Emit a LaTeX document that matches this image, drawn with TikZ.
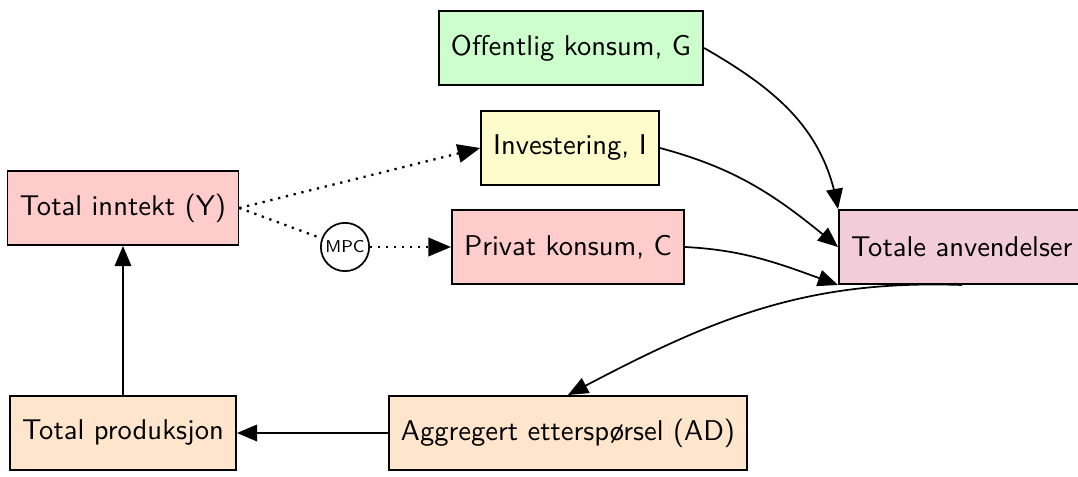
\documentclass[tikz,border=0pt]{standalone}
\usepackage{tikz}
\usetikzlibrary{positioning, arrows}

\begin{document}
\begin{tikzpicture}[->, >=triangle 45, semithick, x=0.35pt, y=0.35pt,
        box/.style={draw, rectangle, font=\sffamily, minimum height=26pt, inner xsep=4.3pt}]
    	\useasboundingbox (0,0) rectangle (1078,477);
    	\node[box, fill=green!20] (G) at (571,429) {Offentlig konsum, G};
    	\node[box, fill=yellow!20] (I) at (570,329) {Investering, I};
    	\node[box, fill=red!20] (Y) at (123,269) {Total inntekt (Y)};
    	\node[box, fill=red!20] (C) at (568,230) {Privat konsum, C};
    	\node[box, fill=purple!20, anchor=west] (T) at (838,230) {Totale anvendelser};
    	\node[box, fill=orange!20] (P) at (123,44) {Total produksjon};
    	\node[box, fill=orange!20] (AD) at (568,44) {Aggregert ettersp\o rsel (AD)};
    	\node[draw, circle, -, font=\fontsize{6}{7}\selectfont\sffamily, inner sep=1pt, minimum size=16pt] (mpc) at (345,230) {MPC};
    	\draw[thick, dotted] (Y.east) -- (I.west);
    	\draw[thick, dotted, -] (Y.east) -- (mpc);
    	\draw[thick, dotted] (mpc) -- (C.west);
    	\draw (G.east) to[out=-30, in=100] (T.north west);
    	\draw (I.east) to[out=-15, in=140] (T.west);
    	\draw (C.east) to[out=-3, in=160] (T.south west);
    	\draw (T.south) to[out=178, in=28] (AD.north);
    	\draw (AD) -- (P);
    	\draw (P) -- (Y);
    \end{tikzpicture}
\end{document}
